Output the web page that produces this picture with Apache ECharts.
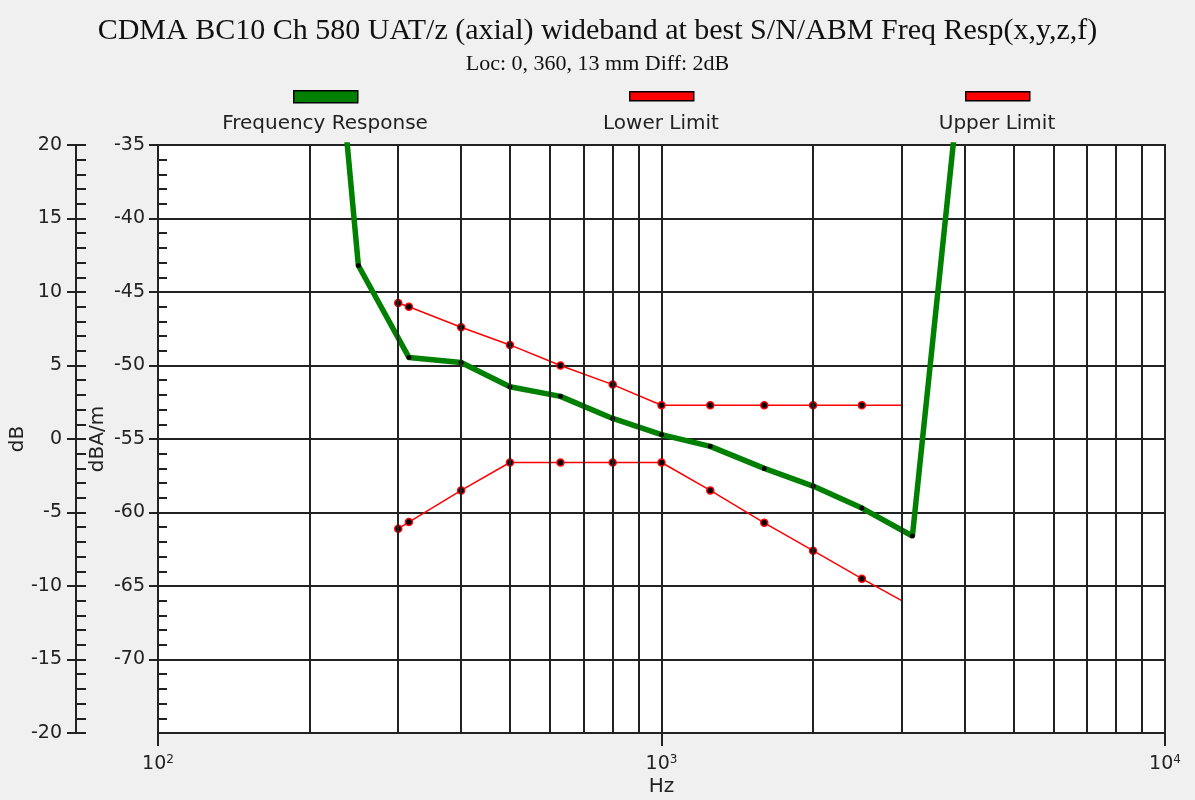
<!DOCTYPE html>
<html>
<head>
<meta charset="utf-8">
<script src="https://cdn.jsdelivr.net/npm/echarts@6/dist/echarts.min.js"></script>
<style>
  html, body { margin: 0; padding: 0; background: #f0f0f0; }
  #main { width: 1195px; height: 800px; }
</style>
</head>
<body>
<div id="main"></div>
<script>
// frequency response, 1/3 octave points (Hz / dBA/m)
var respFreq = [200, 250, 315, 400, 500, 630, 800, 1000, 1250, 1600, 2000, 2500, 3150, 4000];
var respVal = [-7, -43.2, -49.45, -49.8, -51.45, -52.1, -53.6, -54.7, -55.5, -57.0, -58.2, -59.7, -61.6, -27.5];

// limit lines
var limFreq = [300, 315, 400, 500, 630, 800, 1000, 1250, 1600, 2000, 2500, 3000];
var lowerVal = [-61.1, -60.65, -58.5, -56.6, -56.6, -56.6, -56.6, -58.5, -60.7, -62.6, -64.5, -66.0];
var upperVal = [-45.75, -46.0, -47.4, -48.6, -50.0, -51.3, -52.7, -52.7, -52.7, -52.7, -52.7, -52.7];

// vertical grid at 2..9 x decade
var gridFreq = [200, 300, 400, 500, 600, 700, 800, 900, 2000, 3000, 4000, 5000, 6000, 7000, 8000, 9000];

var names = ['Frequency Response', 'Lower Limit', 'Upper Limit'];

var ink = '#222';
var sans = 'DejaVu Sans';

function pairs(xs, ys, lastNoSymbol) {
    return xs.map(function (x, i) {
        var item = { value: [x, ys[i]] };
        if (lastNoSymbol && i === xs.length - 1) item.symbol = 'none';
        return item;
    });
}

var myChart = echarts.init(document.getElementById('main'));

function yAxisPair(min, max, offset, labelMargin, name, nameGap, outLen, inLen, grid, showMin) {
    return [{
        type: 'value', min: min, max: max, interval: 5, position: 'left', offset: offset,
        axisLine: { show: true, onZero: false, lineStyle: { color: ink, width: 2 } },
        axisTick: { show: true, inside: false, length: outLen, lineStyle: { color: ink, width: 2 } },
        axisLabel: { margin: labelMargin, color: ink, fontSize: 19, fontFamily: sans, showMinLabel: showMin },
        splitLine: { show: grid, lineStyle: { color: ink, width: 2 } },
        name: name, nameLocation: 'middle', nameGap: nameGap, nameRotate: 90, nameMoveOverlap: false,
        nameTextStyle: { color: ink, fontSize: 20, fontFamily: sans }
    }, {
        type: 'value', min: min, max: max, interval: 5, position: 'left', offset: offset,
        axisLine: { show: false },
        axisTick: { show: true, inside: true, length: inLen, lineStyle: { color: ink, width: 2 } },
        minorTick: { show: true, splitNumber: 5, length: inLen, lineStyle: { color: ink, width: 2 } },
        axisLabel: { show: false },
        splitLine: { show: false }
    }];
}

var yAxes = yAxisPair(-75, -35, 0, 13, 'dBA/m', 50, 9, 9, true, false)
    .concat(yAxisPair(-20, 20, 82, 14, 'dB', 48, 9, 10, false, true));

var option = {
    animation: false,
    backgroundColor: '#f0f0f0',
    title: {
        text: 'CDMA BC10 Ch 580 UAT/z (axial) wideband at best S/N/ABM Freq Resp(x,y,z,f)',
        subtext: 'Loc: 0, 360, 13 mm Diff: 2dB',
        left: 'center',
        top: 11,
        itemGap: 7,
        textStyle: { fontFamily: 'Liberation Serif', fontSize: 30, fontWeight: 'normal', color: '#111' },
        subtextStyle: { fontFamily: 'Liberation Serif', fontSize: 22, color: '#111' }
    },
    legend: [
        { left: 293, top: 90, padding: 0, itemWidth: 64, itemHeight: 12, icon: 'rect', selectedMode: false,
          formatter: function () { return ''; },
          data: [{ name: names[0], itemStyle: { color: '#008000', borderColor: '#000', borderWidth: 1.5 } }] },
        { left: 629, top: 91, padding: 0, itemWidth: 64, itemHeight: 9, icon: 'rect', selectedMode: false,
          formatter: function () { return ''; },
          data: [{ name: names[1], itemStyle: { color: '#ff0000', borderColor: '#000', borderWidth: 1.5 } }] },
        { left: 965, top: 91, padding: 0, itemWidth: 64, itemHeight: 9, icon: 'rect', selectedMode: false,
          formatter: function () { return ''; },
          data: [{ name: names[2], itemStyle: { color: '#ff0000', borderColor: '#000', borderWidth: 1.5 } }] }
    ],
    graphic: [
        { type: 'text', x: 325, y: 124, style: { text: names[0], align: 'center', verticalAlign: 'middle', font: '20px "DejaVu Sans"', fill: ink } },
        { type: 'text', x: 661, y: 124, style: { text: names[1], align: 'center', verticalAlign: 'middle', font: '20px "DejaVu Sans"', fill: ink } },
        { type: 'text', x: 997, y: 124, style: { text: names[2], align: 'center', verticalAlign: 'middle', font: '20px "DejaVu Sans"', fill: ink } }
    ],
    grid: {
        left: 158, right: 30, top: 145, bottom: 67,
        outerBoundsMode: 'none',
        show: true, backgroundColor: '#fff', borderColor: ink, borderWidth: 2
    },
    xAxis: {
        type: 'log', logBase: 10, min: 100, max: 10000,
        axisLine: { show: true, onZero: false, lineStyle: { color: ink, width: 2 } },
        axisTick: { show: true, length: 13, lineStyle: { color: ink, width: 2 } },
        axisLabel: {
            margin: 21, color: ink, fontSize: 19, fontFamily: sans,
            formatter: function (v) {
                return '10{s|' + Math.round(Math.log10(v)) + '}';
            },
            rich: { s: { fontSize: 12, fontFamily: sans, color: ink, padding: [0, 0, 9, 0] } }
        },
        splitLine: { show: true, lineStyle: { color: ink, width: 2 } },
        name: 'Hz', nameLocation: 'middle', nameGap: 44, nameMoveOverlap: false,
        nameTextStyle: { color: ink, fontSize: 20, fontFamily: sans }
    },
    yAxis: yAxes,
    series: [
        {
            type: 'line', data: [], silent: true, z: 1,
            markLine: {
                silent: true, symbol: ['none', 'none'], animation: false,
                label: { show: false },
                lineStyle: { color: ink, width: 2, type: 'solid' },
                data: gridFreq.map(function (f) { return { xAxis: f }; })
            }
        },
        {
            name: names[0], type: 'line', data: pairs(respFreq, respVal, false),
            showSymbol: true, showAllSymbol: true, symbol: 'circle', symbolSize: 5,
            lineStyle: { color: '#008000', width: 5.5 },
            itemStyle: { color: '#000' }, z: 3
        },
        {
            name: names[1], type: 'line', data: pairs(limFreq, lowerVal, true),
            showSymbol: true, showAllSymbol: true, symbol: 'circle', symbolSize: 7,
            lineStyle: { color: '#ff0000', width: 1.5 },
            itemStyle: { color: '#000', borderColor: '#ff0000', borderWidth: 1.5 }, z: 4
        },
        {
            name: names[2], type: 'line', data: pairs(limFreq, upperVal, true),
            showSymbol: true, showAllSymbol: true, symbol: 'circle', symbolSize: 7,
            lineStyle: { color: '#ff0000', width: 1.5 },
            itemStyle: { color: '#000', borderColor: '#ff0000', borderWidth: 1.5 }, z: 4
        }
    ]
};
myChart.setOption(option);
</script>
</body>
</html>
